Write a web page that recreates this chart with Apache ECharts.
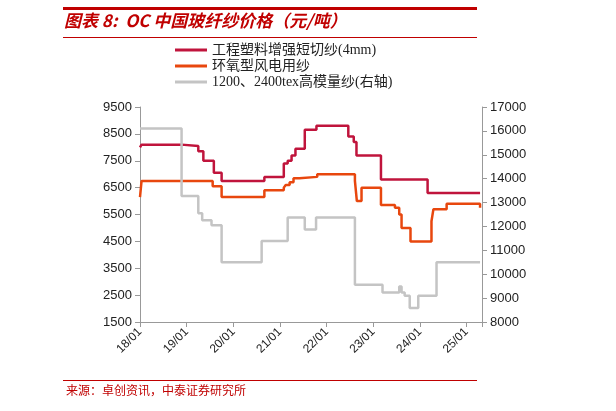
<!DOCTYPE html>
<html><head><meta charset="utf-8">
<script src="https://cdn.jsdelivr.net/npm/echarts@6/dist/echarts.min.js"></script>
<style>body{margin:0;background:#fff}#c{width:616px;height:411px}</style>
</head><body><div id="c"></div>
<script>
const yearLabels = ['18/01','19/01','20/01','21/01','22/01','23/01','24/01','25/01'];
const seriesNames = ['工程塑料增强短切纱(4mm)','环氧型风电用纱','1200、2400tex高模量纱(右轴)'];
// months since 2018-01 where each step starts, and values
const redMonths = [0,0.4,10.7,15,16.3,19,21,32,37,38,39,40,42.4,45.4,53.6,55,55.7,62,74,87.5];
const redVals   = [8000,8100,8050,7850,7500,7050,6750,6900,7400,7500,7700,7950,8650,8800,8400,8200,7700,6800,6300,6300];
const orgMonths = [0,0.4,18.7,21,32,37,37.5,38.5,39.5,41,45.6,55.3,55.8,57,62,65.6,66.7,67.3,69.6,75,75.5,78.9,87.5];
const orgVals   = [6150,6750,6550,6150,6400,6500,6600,6700,6850,6900,7000,6750,6000,6500,5850,5750,5500,5000,4500,5250,5700,5900,5750];
const grayMonths = [0,10.7,15,16,18.4,21,31.3,38,42.4,45.3,55.3,62.4,66.7,67.3,68.1,69.4,71.6,76.3,87.5];
const grayVals   = [16100,13270,12550,12260,12050,10500,11390,12370,11870,12370,9560,9240,9490,9240,9100,8590,9100,10500,10500];
const pair = (m,v) => m.map((x,i)=>[x,v[i]]);
const ch = echarts.init(document.getElementById('c'));
const font = 'Liberation Serif, Noto Sans CJK SC';
const plain = v => String(v);
ch.setOption({
  animation:false,
  graphic:[
    {type:'rect',shape:{x:63,y:7,width:414,height:3},style:{fill:'#c00000'}},
    {type:'rect',shape:{x:63,y:37,width:414,height:1},style:{fill:'#c00000'}},
    {type:'text',left:64,top:12,style:{text:'图表 8:  OC 中国玻纤纱价格（元/吨）',fill:'#c00000',font:'italic bold 17px "Noto Sans CJK SC"'}},
    {type:'rect',shape:{x:63,y:380,width:414,height:1},style:{fill:'#c00000'}},
    {type:'text',left:66,top:384,style:{text:'来源：卓创资讯，中泰证券研究所',fill:'#c00000',font:'12px "Noto Sans CJK SC"'}}
  ],
  legend:{left:170,top:38,orient:'vertical',itemGap:2,itemWidth:32,itemHeight:3,icon:'rect',
    textStyle:{fontFamily:font,fontSize:14,color:'#222'},data:seriesNames},
  grid:{left:140,right:134,top:107,bottom:89},
  xAxis:{type:'value',min:0,max:88,interval:12,
    axisLine:{lineStyle:{color:'#999'}},axisTick:{lineStyle:{color:'#999'}},splitLine:{show:false},
    axisLabel:{rotate:45,color:'#222',fontSize:12,fontFamily:'Liberation Sans',formatter:v=>yearLabels[v/12]||''}},
  yAxis:[
    {type:'value',min:1500,max:9500,interval:1000,splitLine:{show:false},
     axisLine:{show:true,lineStyle:{color:'#999'}},axisTick:{show:true,lineStyle:{color:'#999'}},
     axisLabel:{color:'#222',fontSize:13,fontFamily:'Liberation Sans',formatter:plain}},
    {type:'value',min:8000,max:17000,interval:1000,splitLine:{show:false},
     axisLine:{show:true,lineStyle:{color:'#999'}},axisTick:{show:true,lineStyle:{color:'#999'}},
     axisLabel:{color:'#222',fontSize:13,fontFamily:'Liberation Sans',formatter:plain}}
  ],
  series:[
    {name:seriesNames[0],type:'line',step:'end',showSymbol:false,data:pair(redMonths,redVals),lineStyle:{width:2.5,color:'#c0143c'},itemStyle:{color:'#c0143c'}},
    {name:seriesNames[1],type:'line',step:'end',showSymbol:false,data:pair(orgMonths,orgVals),lineStyle:{width:2.5,color:'#e8470e'},itemStyle:{color:'#e8470e'}},
    {name:seriesNames[2],type:'line',step:'end',yAxisIndex:1,showSymbol:false,data:pair(grayMonths,grayVals),lineStyle:{width:2.5,color:'#c4c4c4'},itemStyle:{color:'#c4c4c4'}}
  ]
});
</script></body></html>
